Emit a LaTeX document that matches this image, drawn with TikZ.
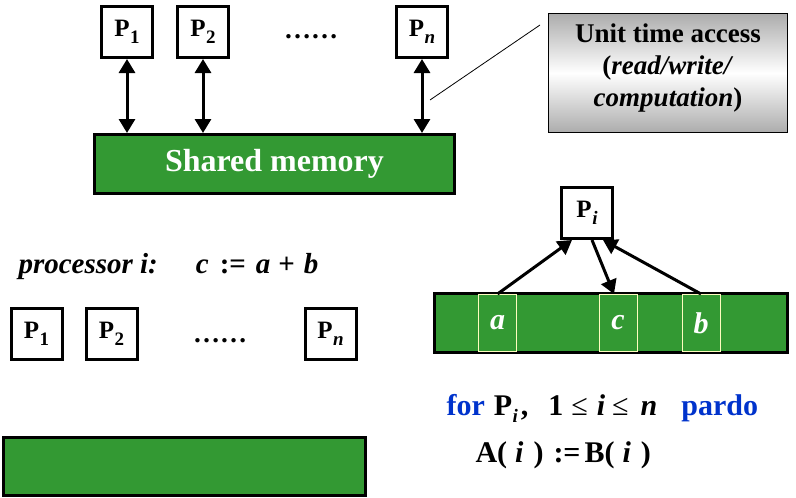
\documentclass[tikz,border=0pt]{standalone}
\usepackage{fontspec}
\setmainfont{Liberation Serif}
\usetikzlibrary{arrows.meta}
\definecolor{memgreen}{RGB}{51,153,51}
\definecolor{pblue}{RGB}{0,51,204}
\newcommand{\Psub}[1]{P\kern0.5pt\raisebox{-7pt}{\fontsize{19}{19}\selectfont #1}}
\begin{document}
\begin{tikzpicture}[x=1pt,y=-1pt,
 pbox/.style={draw,line width=3pt,minimum width=51pt,minimum height=51pt,inner sep=0pt,font=\fontsize{25}{30}\selectfont\bfseries,fill=white},
 membar/.style={draw,line width=3pt,fill=memgreen,inner sep=0pt},
 cell/.style={draw=yellow!25!white,line width=1pt,fill=memgreen,minimum width=38pt,minimum height=57pt,inner sep=0pt,font=\fontsize{30}{30}\selectfont\bfseries\itshape,text=white},
 dots/.style={anchor=base,font=\fontsize{27}{30}\selectfont\bfseries},
 dbl/.style={line width=3pt,{Triangle[width=16pt,length=14pt]}-{Triangle[width=16pt,length=14pt]}},
 arr/.style={line width=3pt,-{Triangle[width=16pt,length=14pt]}},
 txt/.style={anchor=base west,font=\fontsize{30}{32}\selectfont\bfseries},
]
\useasboundingbox (0,0) rectangle (796,498);
% top: processors and shared memory
\node[pbox] (p1) at (127,32) {\Psub{1}};
\node[pbox] (p2) at (203,32) {\Psub{2}};
\node[pbox] (pn) at (422,32) {\Psub{\textit{n}}};
\node[dots] (d1) at (311,38) {……};
\node[membar,minimum width=360pt,minimum height=59pt,text=white,font=\fontsize{32}{32}\selectfont\bfseries] (sm) at (274.5,164) {Shared memory};
\draw[dbl] (p1.south) -- (p1.south |- sm.north);
\draw[dbl] (p2.south) -- (p2.south |- sm.north);
\draw[dbl] (pn.south) -- (pn.south |- sm.north);
% callout
\node[draw,line width=0.8pt,top color=gray!65,bottom color=gray!65,middle color=white,minimum width=239pt,minimum height=119pt] (note) at (668,73) {};
\node[align=center,font=\fontsize{27}{32}\selectfont\bfseries] (notetxt) at (668,68) {Unit time access\\(\textit{read/write/}\\\textit{computation})};
\coordinate (leadA) at (430,100);
\coordinate (leadB) at (540,25);
\draw[line width=0.8pt] (leadA) -- (leadB);
% bottom left
\node[txt,font=\fontsize{29}{32}\selectfont\bfseries\itshape] (proc) at (15,273) {processor i:\hspace{38pt}c\hspace{11pt}\textup{:=}\hspace{10pt}a\hspace{8pt}\textup{+}\hspace{9pt}b};
\node[pbox] (q1) at (36.5,334) {\Psub{1}};
\node[pbox] (q2) at (111.5,334) {\Psub{2}};
\node[pbox] (qn) at (330.5,334) {\Psub{\textit{n}}};
\node[dots] (d2) at (220,342) {……};
\node[membar,minimum width=362pt,minimum height=58pt] (mem2) at (184.5,466.5) {};
% right: Pi with memory cells
\node[membar,minimum width=353pt,minimum height=59pt] (mem3) at (611,323) {};
\node[cell] (ca) at (497.5,323) {a};
\node[cell] (cc) at (618,323) {c};
\node[cell] (cb) at (701,323) {b};
\node[pbox] (pi) at (587,213) {\Psub{\textit{i}}};
\draw[arr] (ca.north) -- ([xshift=-15pt]pi.south);
\draw[arr] ([xshift=5pt]pi.south) -- ([xshift=-4pt]cc.north);
\draw[arr] (cb.north) -- ([xshift=16pt]pi.south);
% bottom right text
\node[txt] (forl) at (443,415) {\textcolor{pblue}{for}\hspace{9pt}\Psub{\textit{i}}\hspace{3pt},\hspace{20pt}1\hspace{8pt}\textmd{≤}\hspace{9pt}\textit{i}\hspace{7pt}\textmd{≤}\hspace{12pt}\textit{n}\hspace{24pt}\textcolor{pblue}{pardo}};
\node[txt] (asg) at (472,462) {A(\hspace{8pt}\textit{i}\hspace{10pt})\hspace{10pt}:=\hspace{4pt}B(\hspace{8pt}\textit{i}\hspace{10pt})};
\end{tikzpicture}
\end{document}
